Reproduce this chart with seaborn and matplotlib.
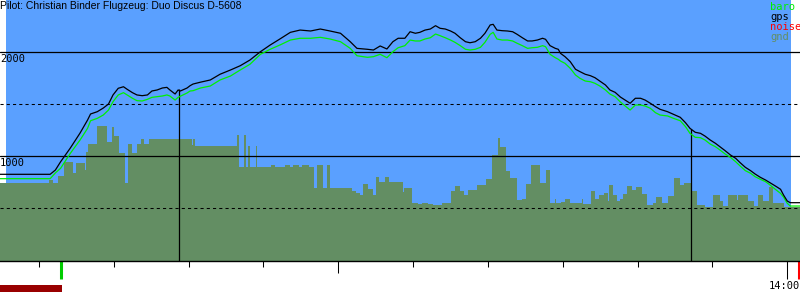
import matplotlib
matplotlib.use("Agg")
import matplotlib.pyplot as plt
from matplotlib.ticker import MultipleLocator, FixedLocator, NullFormatter
from matplotlib.patches import Rectangle
import seaborn as sns
import pandas as pd

sns.set_theme(style="white")
plt.rcParams['font.family'] = ['DejaVu Sans']

# ---------------- data (time in minutes after 12:00, altitude in m) ----------------
title = "Pilot: Christian Binder Flugzeug: Duo Discus D-5608"
legend_labels = ["baro", "gps", "noise", "gnd"]
y_label_values = [1000, 2000]
solid_levels = [1000, 2000]
dashed_levels = [500, 1500]
hour_label = "14:00"
hour_label_time = 120.0
hour_tick_times = [60]

time_min = [14.8, 21.5, 22.2, 22.9, 24.2, 25.5, 26.5, 26.9, 27.8, 28.6, 29.3, 29.9, 30.6, 31.3, 31.8,
            32.5, 33.1, 33.8, 34.5, 35.1, 35.8, 36.5, 37.1, 37.5, 38.2, 38.6, 38.9, 39.8, 40.2, 40.6,
            41.6, 42.9, 44.2, 45.6, 46.9, 48.2, 49.6, 50.9, 52.2, 53.6, 54.9, 56.3, 57.6, 58.9, 60.3,
            61.6, 62.5, 63.9, 64.7, 65.6, 66.5, 67.3, 68.0, 68.9, 69.6, 70.3, 70.9, 71.6, 72.3, 73.0,
            73.6, 74.3, 75.0, 75.6, 76.3, 77.0, 77.6, 78.3, 79.0, 79.6, 80.3, 80.7, 81.2, 81.9, 82.6,
            83.3, 83.9, 84.6, 85.3, 85.9, 86.6, 87.3, 87.7, 88.3, 89.0, 89.4, 89.7, 90.3, 91.0, 91.7,
            92.3, 93.0, 93.7, 94.3, 95.0, 95.7, 96.3, 97.0, 97.7, 99.0, 99.7, 100.4, 101.0, 101.7, 102.4,
            103.0, 104.0, 104.8, 105.7, 106.4, 107.0, 107.7, 108.4, 109.0, 109.7, 110.4, 111.0, 111.7, 112.4, 113.1,
            113.7, 114.4, 115.1, 115.7, 116.4, 117.1, 117.7, 118.4, 119.1, 119.5, 120.0, 120.4, 121.7]

gps_alt = [824, 824, 865, 945, 1077, 1221, 1346, 1404, 1426, 1461, 1500, 1587, 1651, 1666, 1641,
           1609, 1587, 1580, 1587, 1625, 1635, 1654, 1660, 1635, 1596, 1635, 1625, 1654, 1676, 1692,
           1710, 1731, 1786, 1827, 1868, 1923, 2003, 2067, 2125, 2189, 2211, 2202, 2221, 2202, 2180,
           2099, 2035, 2026, 2019, 2058, 2029, 2099, 2132, 2132, 2195, 2180, 2189, 2211, 2221, 2253,
           2228, 2221, 2202, 2180, 2137, 2099, 2089, 2099, 2132, 2180, 2260, 2266, 2211, 2205, 2202,
           2195, 2170, 2137, 2106, 2106, 2115, 2132, 2122, 2061, 2035, 2026, 1987, 1955, 1907, 1834,
           1811, 1786, 1772, 1753, 1718, 1683, 1635, 1612, 1567, 1507, 1555, 1555, 1538, 1507, 1474,
           1449, 1426, 1401, 1372, 1320, 1266, 1228, 1218, 1192, 1154, 1122, 1089, 1051, 1010, 978,
           936, 891, 859, 827, 795, 769, 743, 712, 680, 625, 567, 551, 551]

baro_alt = [782, 782, 837, 882, 1026, 1154, 1266, 1339, 1362, 1394, 1442, 1522, 1587, 1609, 1587,
            1555, 1532, 1529, 1545, 1564, 1570, 1577, 1587, 1577, 1538, 1564, 1575, 1606, 1625, 1628,
            1654, 1673, 1731, 1769, 1827, 1882, 1978, 2026, 2067, 2115, 2132, 2132, 2141, 2125, 2099,
            2035, 1964, 1949, 1955, 1978, 1945, 2003, 2041, 2061, 2115, 2106, 2106, 2125, 2137, 2173,
            2157, 2137, 2115, 2093, 2061, 2026, 2019, 2026, 2045, 2093, 2170, 2189, 2125, 2115, 2115,
            2106, 2084, 2061, 2035, 2041, 2045, 2061, 2051, 1978, 1945, 1930, 1913, 1891, 1843, 1779,
            1747, 1721, 1714, 1699, 1671, 1635, 1596, 1570, 1519, 1442, 1490, 1490, 1481, 1459, 1416,
            1394, 1385, 1362, 1339, 1282, 1218, 1180, 1176, 1154, 1115, 1089, 1058, 1019, 987, 945,
            904, 859, 834, 801, 776, 753, 721, 680, 641, 605, 545, 519, 519]

gnd_time = [14.8, 21.4, 21.9, 22.5, 23.4, 24.6, 24.9, 26.1, 26.3, 26.6, 27.8, 29.1, 29.7, 30.1, 30.7,
            31.5, 31.9, 32.5, 33.1, 33.7, 34.1, 34.7, 40.4, 40.6, 40.9, 46.5, 46.8, 47.4, 47.7, 48.0,
            48.2, 49.0, 49.2, 51.0, 51.6, 52.9, 53.6, 53.9, 54.7, 55.1, 56.1, 56.7, 57.1, 57.9, 58.5,
            58.9, 61.9, 62.4, 62.9, 63.3, 64.0, 64.7, 65.1, 65.5, 66.3, 66.8, 68.6, 68.8, 69.8, 70.7,
            71.2, 72.0, 72.7, 73.8, 75.0, 75.6, 76.3, 76.8, 77.4, 78.6, 79.8, 80.6, 81.4, 81.6, 82.4,
            83.0, 83.9, 84.6, 85.1, 85.8, 87.0, 87.7, 88.3, 89.0, 89.1, 89.7, 90.3, 91.0, 92.6, 92.7,
            93.8, 94.3, 94.9, 95.5, 96.1, 96.2, 96.7, 97.3, 97.7, 98.1, 98.6, 99.2, 99.8, 100.6, 101.3,
            102.1, 102.4, 103.2, 104.0, 104.9, 105.7, 106.2, 107.2, 108.0, 109.0, 110.1, 111.0, 111.4, 112.1, 113.3,
            113.4, 114.8, 115.5, 116.1, 116.7, 117.5, 118.1, 119.5, 120.5, 121.7]

gnd_alt = [743, 769, 743, 808, 945, 840, 930, 865, 1038, 1115, 1288, 1138, 1282, 1196, 1026,
           743, 1112, 1026, 1115, 1163, 1115, 1163, 1106, 1163, 1096, 1202, 897, 1202, 897, 1096,
           897, 1096, 897, 913, 897, 913, 897, 913, 897, 913, 897, 689, 913, 689, 913,
           689, 663, 647, 625, 731, 683, 625, 795, 753, 795, 753, 657, 689, 551, 541,
           548, 538, 529, 551, 663, 711, 663, 625, 673, 721, 779, 1010, 1173, 1083, 856,
           792, 577, 583, 731, 913, 737, 865, 551, 587, 551, 561, 587, 551, 583, 538,
           667, 583, 625, 641, 567, 721, 625, 570, 583, 631, 711, 673, 705, 635, 529,
           545, 603, 551, 615, 785, 721, 743, 667, 529, 513, 625, 570, 519, 625, 577,
           625, 567, 519, 625, 567, 705, 548, 513, 506, 506]

data_start, data_end = 15.6, 120.5          # span of logged data (blue)
view_start, view_end = 14.8, 121.7
marker_times = [38.75, 107.2]               # start / finish markers
marker_alts = [1640, 1262]
takeoff_time, landing_time = 23.0, 121.5
noise_bar = (14.8, 23.1)

assert len(time_min) == len(gps_alt) == len(baro_alt)
assert len(gnd_time) == len(gnd_alt)

BLUE = "#5aa0ff"
GND = "#638e63"
BARO = "#00f000"
RED = "#ff0000"
DARKRED = "#990000"

df = pd.DataFrame({"time": time_min, "gps": gps_alt, "baro": baro_alt})

# ---------------- figure ----------------
fig = plt.figure(figsize=(8, 3), dpi=100)
fig.patch.set_facecolor("white")
ax = fig.add_axes([0, 39 / 300, 1, 261 / 300])
ax.set_facecolor("white")
ymin = -9.6
ax.set_xlim(view_start, view_end)
ax.set_ylim(ymin, 2500)

ax.axvspan(data_start, data_end, color=BLUE, lw=0, zorder=0)
ax.fill_between(gnd_time, gnd_alt, ymin, step="post", color=GND, lw=0, zorder=1)

for lv in solid_levels:
    ax.axhline(lv, color="black", lw=0.9, zorder=2)
for lv in dashed_levels:
    ax.axhline(lv, color="black", lw=0.75, ls=(0, (3, 3)), zorder=2)

sns.lineplot(data=df, x="time", y="baro", ax=ax, color=BARO, lw=0.9, estimator=None,
             sort=False, zorder=4)
sns.lineplot(data=df, x="time", y="gps", ax=ax, color="black", lw=0.9, estimator=None,
             sort=False, zorder=5)

ax.vlines(marker_times, ymin, marker_alts, color="black", lw=0.9, zorder=3)

# axes styling
for s in ["top", "left", "right"]:
    ax.spines[s].set_visible(False)
ax.spines["bottom"].set_color("black")
ax.spines["bottom"].set_linewidth(1.0)
ax.set_xlabel("")
ax.set_ylabel("")
ax.set_yticks([])
ax.xaxis.set_minor_locator(MultipleLocator(10))
ax.xaxis.set_major_locator(FixedLocator(hour_tick_times))
ax.xaxis.set_major_formatter(NullFormatter())
ax.tick_params(axis="x", which="minor", direction="out", length=4.3, width=0.75,
               color="black", bottom=True)
ax.tick_params(axis="x", which="major", direction="out", length=8.6, width=0.75,
               color="black", bottom=True)

xt = ax.get_xaxis_transform()
tick_depth = -18 / 261
ax.vlines([hour_label_time], tick_depth, 0, transform=xt, color="black", lw=0.75, clip_on=False)
ax.vlines([takeoff_time], tick_depth, 0, transform=xt, color="#00cc00", lw=2.2, clip_on=False)
ax.vlines([landing_time], tick_depth, 0, transform=xt, color=RED, lw=2.2, clip_on=False)
ax.add_patch(Rectangle((noise_bar[0], -31 / 261), noise_bar[1] - noise_bar[0], 7 / 261,
                       transform=xt, color=DARKRED, lw=0, clip_on=False))
ax.text(view_end, -20 / 261, hour_label, transform=xt, ha="right", va="top",
        fontsize=7.5, family="DejaVu Sans Mono", color="black", clip_on=False)

# y labels
yt = ax.get_yaxis_transform()
for v in y_label_values:
    ax.annotate(str(v), xy=(0, v), xycoords=yt, xytext=(0, -2), textcoords="offset pixels",
                ha="left", va="top", fontsize=7.5, family="DejaVu Sans Mono", color="black")

# title
fig.text(0.0, 1 - 1 / 300, title, ha="left", va="top", fontsize=7.5,
         family="Liberation Sans", color="black")

# legend text
legend_colors = [BARO, "black", RED, GND]
for i, (lab, c) in enumerate(zip(legend_labels, legend_colors)):
    fig.text(770 / 800, 1 - (2 + 10 * i) / 300, lab, ha="left", va="top", fontsize=7.5,
             family="DejaVu Sans Mono", color=c)

fig.savefig("out.png", dpi=100, facecolor="white")
